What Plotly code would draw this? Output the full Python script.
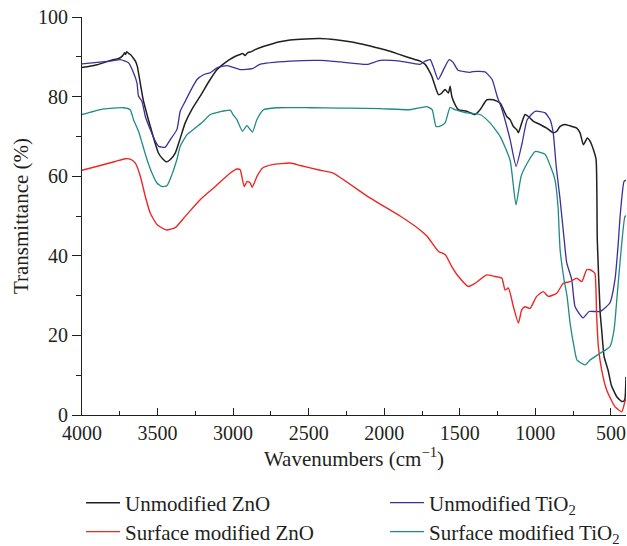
import plotly.graph_objects as go

# ---------------- data ----------------
zno_w = [4000, 3950, 3900, 3850, 3800, 3760, 3730, 3718, 3712, 3704,
         3690, 3675, 3661, 3645, 3634, 3615, 3595, 3570, 3548, 3520,
         3495, 3465, 3442, 3415, 3383, 3350, 3317, 3270, 3218, 3160,
         3106, 3050, 3006, 2960, 2935, 2920, 2905, 2880, 2854, 2800,
         2755, 2700, 2623, 2520, 2424, 2320, 2225, 2150, 2093, 2020,
         1961, 1900,
         1829, 1763, 1729, 1707, 1685, 1663, 1641, 1619, 1597, 1575,
         1564, 1553, 1531, 1509, 1454, 1399, 1366, 1321, 1278, 1233,
         1189, 1167, 1145, 1123, 1112, 1090, 1068, 1046, 1013, 969,
         925, 881, 858, 836, 803, 759, 726, 704, 682, 656,
         638, 616, 598, 590, 571, 561, 545, 519, 497, 461,
         428, 412, 406, 400]
zno_t = [87.3, 87.6, 88.0, 88.6, 89.2, 89.5, 90.3, 91.0, 90.6, 91.3,
         90.8, 90.4, 89.7, 88.8, 87.6, 83.5, 79.2, 75.5, 72.5, 68.8,
         65.9, 64.3, 63.6, 64.2, 65.8, 69.5, 73.4, 77.0, 80.1, 83.8,
         86.8, 88.6, 89.7, 90.5, 90.8, 90.3, 91.0, 91.3, 91.8, 92.6,
         93.1, 93.7, 94.2, 94.5, 94.6, 94.3, 93.8, 93.2, 92.7, 92.0,
         91.4, 90.6,
         89.7, 88.9, 88.1, 86.8, 85.1, 82.6, 80.5, 80.9, 81.8, 80.9,
         82.6, 80.1, 78.0, 76.7, 76.3, 75.5, 76.7, 79.2, 79.2, 78.4,
         75.0, 74.2, 72.5, 71.7, 70.9, 73.4, 75.5, 75.0, 73.8, 73.0,
         72.1, 70.9, 71.3, 72.5, 73.0, 72.5, 72.1, 70.9, 67.9, 69.6,
         68.8, 66.7, 64.2, 44.0, 25.7, 21.4, 14.7, 11.3, 7.5, 4.6,
         3.4, 3.6, 4.3, 9.6]

tio2_w = [4000, 3900, 3800, 3747, 3692, 3659, 3636, 3626, 3603, 3581,
          3548, 3515, 3493, 3449, 3416, 3372, 3350, 3317, 3284, 3239,
          3196, 3151, 3106, 3040, 2954, 2874, 2823, 2623, 2424, 2292,
          2113, 2027, 1895, 1763, 1729, 1696, 1676, 1643, 1597, 1570,
          1544, 1511, 1432, 1412, 1333, 1286, 1253, 1220, 1167, 1127,
          1087, 1054, 1001, 935, 902, 882, 862, 836, 809, 792,
          759, 737, 684, 644, 572, 506, 473, 453, 439, 413,
          400]
tio2_t = [88.2, 88.6, 89.0, 89.3, 88.5, 86.0, 83.4, 80.1, 78.8, 75.0,
          71.7, 68.8, 67.5, 67.3, 69.2, 71.7, 76.3, 78.8, 81.3, 84.3,
          85.5, 86.0, 87.2, 87.8, 86.8, 87.0, 88.1, 88.9, 89.1, 88.7,
          88.1, 89.1, 88.9, 88.1, 88.9, 89.3, 87.6, 84.3, 87.6, 89.3,
          88.6, 86.6, 86.1, 86.3, 86.2, 84.3, 80.1, 76.7, 69.2, 62.5,
          68.4, 74.2, 76.3, 75.9, 74.2, 71.0, 62.5, 54.1, 44.0, 38.2,
          34.0, 27.2, 24.4, 26.0, 26.0, 28.2, 34.0, 42.3, 49.9, 58.7,
          59.0]

mzno_w = [4000, 3879, 3780, 3714, 3681, 3647, 3614, 3581, 3548, 3502,
          3442, 3383, 3317, 3218, 3118, 3019, 2973, 2953, 2940, 2926,
          2907, 2887, 2874, 2841, 2807, 2741, 2622, 2556, 2424, 2338,
          2113, 2027, 1895, 1763, 1716, 1641, 1597, 1553, 1509, 1443,
          1399, 1321, 1267, 1222, 1200, 1178, 1145, 1112, 1090, 1068,
          1035, 991, 947, 914, 858, 815, 770, 726, 693, 660,
          638, 616, 605, 594, 583, 561, 528, 473, 428, 407,
          400]
mzno_t = [61.5, 62.7, 63.7, 64.4, 64.3, 63.3, 60.0, 54.9, 50.7, 47.8,
          46.5, 47.1, 49.9, 54.1, 57.4, 60.8, 61.8, 61.6, 59.5, 57.4,
          58.7, 58.3, 57.2, 60.0, 62.0, 62.9, 63.3, 62.7, 61.5, 60.8,
          55.0, 53.0, 50.0, 46.5, 44.9, 41.1, 40.3, 37.3, 34.8, 32.3,
          33.1, 35.2, 34.8, 34.4, 31.4, 31.9, 27.2, 23.1, 26.4, 27.2,
          26.8, 29.8, 31.0, 29.8, 30.6, 33.1, 33.5, 34.4, 33.5, 36.5,
          36.5, 36.0, 35.5, 24.7, 17.2, 11.3, 6.3, 2.1, 0.8, 3.4,
          4.0]

mtio2_w = [4000, 3923, 3857, 3725, 3681, 3659, 3626, 3603, 3570, 3537,
           3504, 3471, 3438, 3405, 3372, 3350, 3306, 3251, 3196, 3151,
           3019, 3001, 2975, 2938, 2909, 2872, 2843, 2799, 2710, 2490,
           2292, 2225, 2027, 1829, 1717, 1683, 1657, 1630, 1597, 1564,
           1531, 1465, 1366, 1300, 1233, 1167, 1128, 1094, 1055, 1002,
           936, 902, 870, 850, 836, 810, 790, 770, 744, 724,
           671, 638, 572, 506, 479, 459, 440, 426, 407, 400]
mtio2_t = [75.5, 76.3, 76.9, 77.2, 76.7, 74.2, 71.3, 68.4, 64.2, 60.8,
           58.3, 57.4, 57.6, 60.4, 64.2, 67.5, 70.4, 72.1, 73.8, 75.5,
           76.6, 75.5, 74.2, 71.3, 72.7, 71.1, 74.2, 76.7, 77.2, 77.2,
           77.1, 77.1, 77.0, 76.7, 77.5, 76.7, 72.5, 72.6, 73.4, 77.3,
           76.7, 76.0, 75.5, 73.4, 70.0, 64.0, 52.8, 60.0, 63.2, 66.2,
           65.5, 62.7, 59.1, 52.4, 41.5, 34.0, 29.8, 23.1, 17.2, 13.8,
           12.6, 13.8, 15.5, 17.2, 21.4, 29.8, 38.2, 44.0, 49.9, 50.0]

# name, x, y, colour, width, legend id
series = [
    ("Unmodified ZnO", zno_w, zno_t, "#231f20", 1.5, "legend"),
    ("Unmodified TiO<sub>2</sub>", tio2_w, tio2_t, "#3c2f9c", 1.3, "legend2"),
    ("Surface modified ZnO", mzno_w, mzno_t, "#ed2724", 1.4, "legend3"),
    ("Surface modified TiO<sub>2</sub>", mtio2_w, mtio2_t, "#1f8a86", 1.3, "legend4"),
]

FONT = "Liberation Serif"
INK = "#231f20"
TICK_SIZE = 20
TEXT_SIZE = 21

fig = go.Figure()
for name, w, t, col, lw, leg in series:
    fig.add_trace(go.Scatter(x=w, y=t, mode="lines", name=name, legend=leg,
                             line=dict(color=col, width=lw, shape="spline", smoothing=0.5)))

leg_common = dict(orientation="h", xanchor="left", yanchor="middle", itemwidth=34,
                  xref="container", yref="container",
                  font=dict(family=FONT, size=TEXT_SIZE, color=INK),
                  bgcolor="rgba(0,0,0,0)")
COL1, COL2 = 81 / 627, 385 / 627
ROW1, ROW2 = 1 - 503 / 546, 1 - 532 / 546

fig.update_layout(
    width=627, height=546,
    margin=dict(l=82, r=1, t=17, b=131),
    paper_bgcolor="white", plot_bgcolor="white",
    font=dict(family=FONT, size=TEXT_SIZE, color=INK),
    showlegend=True,
    legend=dict(leg_common, x=COL1, y=ROW1),
    legend2=dict(leg_common, x=COL2, y=ROW1),
    legend3=dict(leg_common, x=COL1, y=ROW2),
    legend4=dict(leg_common, x=COL2, y=ROW2),
)
fig.update_xaxes(range=[4000, 400], showgrid=False, zeroline=False,
                 showline=True, linecolor=INK, linewidth=1.2,
                 ticks="inside", ticklen=7, tickwidth=1.1, tickcolor=INK,
                 tick0=0, dtick=500,
                 minor=dict(ticks="inside", ticklen=4, tickwidth=1, tickcolor=INK, dtick=250, tick0=0),
                 tickfont=dict(family=FONT, size=TICK_SIZE, color=INK),
                 title=dict(text="Wavenumbers (cm<sup>\u22121</sup>)", standoff=6,
                            font=dict(family=FONT, size=TEXT_SIZE, color=INK)))
fig.update_yaxes(range=[0, 100], showgrid=False, zeroline=False,
                 showline=True, linecolor=INK, linewidth=1.2,
                 ticks="outside", ticklen=9, tickwidth=1.1, tickcolor=INK,
                 tick0=0, dtick=20,
                 minor=dict(ticks="outside", ticklen=5, tickwidth=1, tickcolor=INK, dtick=10, tick0=0),
                 tickfont=dict(family=FONT, size=TICK_SIZE, color=INK),
                 title=dict(text="Transmittance (%)", standoff=3,
                            font=dict(family=FONT, size=TEXT_SIZE, color=INK)))

fig.write_html("out.html", config={"displayModeBar": False},
               post_script="document.body.style.margin='0';")
